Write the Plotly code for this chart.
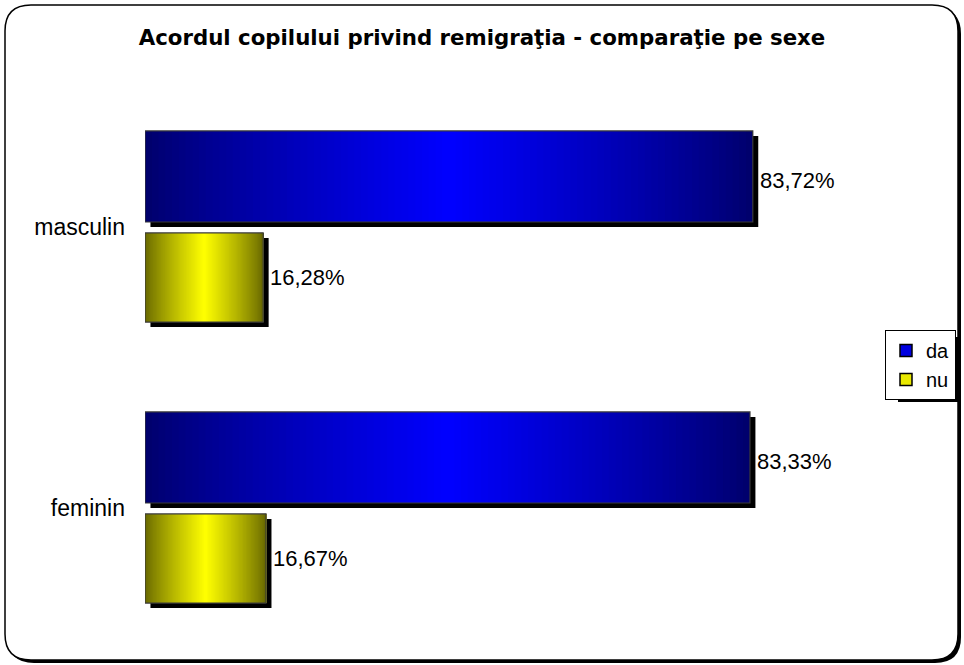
import plotly.graph_objects as go

# ---- data ----
categories = ["masculin", "feminin"]
series_names = ["da", "nu"]
da_values = [83.72, 83.33]
nu_values = [16.28, 16.67]
title_text = "Acordul copilului privind remigraţia - comparaţie pe sexe"

# ---- style ----
FONT = "Liberation Sans, Arial, sans-serif"
TITLE_FONT = "DejaVu Sans, Verdana, sans-serif"
N = 90  # gradient slices
series = [
    dict(name=series_names[0], values=da_values, edge=(0, 0, 0x6a), mid=(0, 0, 0xff),
         legend="#0000e0", offset=-0.340, width=0.324, label_dy=-4),
    dict(name=series_names[1], values=nu_values, edge=(0x66, 0x66, 0), mid=(0xff, 0xff, 0),
         legend="#e8e800", offset=0.023, width=0.317, label_dy=0),
]
shadow_dx = 0.75
shadow_dy = 0.018

W, H = 964, 665
L, R, T, B = 145, 93, 86, 17
PW, PH = W - L - R, H - T - B


def mix(c1, c2, t):
    return "rgb(%d,%d,%d)" % tuple(round(a + (b - a) * t) for a, b in zip(c1, c2))


def px(x):  # pixel -> paper (plot-area relative)
    return (x - L) / PW


def py(y):
    return (H - B - y) / PH


fig = go.Figure()

# shadows
for s in series:
    fig.add_trace(go.Bar(
        y=categories, x=s["values"], base=[shadow_dx] * len(categories),
        orientation="h", offset=s["offset"] + shadow_dy, width=s["width"],
        marker=dict(color="black", line=dict(width=0)),
        showlegend=False, hoverinfo="skip"))

# gradient slices (each slice runs to the bar end, later slices cover earlier)
for s in series:
    for i in range(N):
        t = (i + 0.5) / N
        k = (1 - abs(2 * t - 1)) ** 0.85
        fig.add_trace(go.Bar(
            y=categories,
            x=[v * (1 - i / N) for v in s["values"]],
            base=[v * i / N for v in s["values"]],
            orientation="h", offset=s["offset"], width=s["width"],
            marker=dict(color=mix(s["edge"], s["mid"], k), line=dict(width=0)),
            showlegend=False, hoverinfo="skip"))

# outlines
for s in series:
    fig.add_trace(go.Bar(
        y=categories, x=s["values"], orientation="h",
        offset=s["offset"], width=s["width"],
        marker=dict(color="rgba(0,0,0,0)", line=dict(color="#3a3a3a", width=1.2)),
        showlegend=False, hoverinfo="skip"))

# value labels
annotations = []
for s in series:
    for ci, v in enumerate(s["values"]):
        annotations.append(dict(
            x=v, y=ci + s["offset"] + s["width"] / 2, xref="x", yref="y",
            text=("%.2f" % v).replace(".", ",") + "%",
            showarrow=False, xanchor="left", yanchor="middle",
            xshift=5, yshift=s["label_dy"],
            font=dict(family=FONT, size=22, color="black")))

# legend entries
for s in series:
    fig.add_trace(go.Bar(
        y=[None], x=[None], orientation="h", name=s["name"],
        marker=dict(color=s["legend"], line=dict(color="black", width=1.5)),
        showlegend=True))


def rounded_rect(x0, y0, x1, y1, r):
    return ("M {a},{b} L {c},{b} Q {x1},{b} {x1},{d} L {x1},{e} Q {x1},{f} {c},{f} "
            "L {a},{f} Q {x0},{f} {x0},{e} L {x0},{d} Q {x0},{b} {a},{b} Z").format(
        a=px(x0 + r), c=px(x1 - r), b=py(y0), d=py(y0 + r), e=py(y1 - r), f=py(y1),
        x0=px(x0), x1=px(x1))


shapes = [
    dict(type="path", xref="paper", yref="paper",
         path=rounded_rect(8, 8, 961, 663, 26), fillcolor="black",
         line=dict(width=0), layer="below"),
    dict(type="path", xref="paper", yref="paper",
         path=rounded_rect(5, 5, 958, 660, 26), fillcolor="white",
         line=dict(color="black", width=1.5), layer="below"),
    # legend shadow
    dict(type="rect", xref="paper", yref="paper",
         x0=px(898), x1=px(960), y0=py(337), y1=py(402),
         fillcolor="black", line=dict(width=0), layer="below"),
]

fig.update_layout(
    width=W, height=H,
    margin=dict(l=L, r=R, t=T, b=B, autoexpand=False),
    paper_bgcolor="rgba(0,0,0,0)", plot_bgcolor="rgba(0,0,0,0)",
    barmode="overlay",
    title=dict(text="<b>" + title_text + "</b>", x=0.5, xanchor="center", xref="container",
               y=1 - 38 / H, yanchor="middle", yref="container",
               font=dict(family=TITLE_FONT, size=21.3, color="black")),
    xaxis=dict(range=[0, 100], showgrid=False, zeroline=False, showline=False,
               showticklabels=False, fixedrange=True),
    yaxis=dict(range=[1.5, -0.5], autorange=False, showgrid=False, zeroline=False,
               showline=False, ticks="", ticklabelstandoff=19,
               tickfont=dict(family=FONT, size=23, color="black")),
    legend=dict(x=px(956), y=py(365), xanchor="right", yanchor="middle",
                bgcolor="white", bordercolor="black", borderwidth=1,
                font=dict(family=FONT, size=20, color="black"),
                itemwidth=30, tracegroupgap=4),
    shapes=shapes,
    annotations=annotations,
)

fig.write_html("out.html", config={"displayModeBar": False},
               post_script="document.body.style.margin='0';document.body.style.padding='0';")
